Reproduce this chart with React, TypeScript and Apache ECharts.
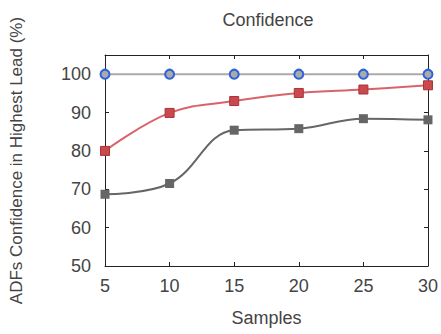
import React, { useEffect, useRef } from "react";
import * as echarts from "echarts";

const samples = [5, 10, 15, 20, 25, 30];
const blueSeries = [100, 100, 100, 100, 100, 100];
const redSeries = [80.0, 89.9, 93.0, 95.1, 96.0, 97.1];
const graySeries = [68.7, 71.5, 85.4, 85.8, 88.4, 88.1];
const yTicks = [50, 60, 70, 80, 90, 100];

const toPairs = (vals: number[]) => samples.map((s, i) => [s, vals[i]]);

export default function App() {
  const ref = useRef<HTMLDivElement>(null);
  useEffect(() => {
    document.body.style.margin = "0";
    const chart = echarts.init(ref.current!, undefined, { renderer: "svg" });
    const font = "Liberation Sans, Arial, sans-serif";
    const textColor = "#444";
    const axisLine = { show: true, lineStyle: { color: "#222", width: 1 } };
    const tick = { show: true, inside: true, length: 4, lineStyle: { color: "#222" } };
    chart.setOption({
      animation: false,
      backgroundColor: "#fff",
      title: {
        text: "Confidence",
        left: 263,
        top: 6,
        textAlign: "center",
        textStyle: { fontFamily: font, fontSize: 18, fontWeight: "normal", color: textColor },
      },
      grid: { left: 101, right: 10, top: 55, bottom: 68 },
      xAxis: [
        {
          type: "value",
          min: 5,
          max: 30,
          interval: 5,
          position: "bottom",
          axisLine,
          axisTick: tick,
          splitLine: { show: false },
          axisLabel: { fontFamily: font, fontSize: 18, color: textColor, margin: 11 },
          name: "Samples",
          nameLocation: "middle",
          nameGap: 43,
          nameTextStyle: { fontFamily: font, fontSize: 18, color: textColor },
        },
        {
          type: "value",
          min: 5,
          max: 30,
          interval: 5,
          position: "top",
          axisLine,
          axisTick: tick,
          splitLine: { show: false },
          axisLabel: { show: false },
        },
      ],
      yAxis: [
        {
          type: "value",
          min: 50,
          max: 105,
          interval: 10,
          position: "left",
          axisLine,
          axisTick: tick,
          splitLine: { show: false },
          axisLabel: {
            fontFamily: font,
            fontSize: 18,
            color: textColor,
            margin: 14,
            formatter: (v: number) => (yTicks.includes(v) ? String(v) : ""),
          },
          name: "ADFs Confidence in Highest Lead (%)",
          nameLocation: "middle",
          nameGap: 80,
          nameTextStyle: { fontFamily: font, fontSize: 17, color: textColor },
        },
        {
          type: "value",
          min: 50,
          max: 105,
          interval: 10,
          position: "right",
          axisLine,
          axisTick: tick,
          splitLine: { show: false },
          axisLabel: { show: false },
        },
      ],
      series: [
        {
          type: "line",
          data: toPairs(graySeries),
          smooth: 0.4,
          symbol: "rect",
          symbolSize: 9,
          lineStyle: { color: "#666", width: 2 },
          itemStyle: { color: "#666" },
          z: 2,
        },
        {
          type: "line",
          data: toPairs(redSeries),
          smooth: 0.4,
          symbol: "rect",
          symbolSize: 9,
          lineStyle: { color: "#d9636a", width: 2 },
          itemStyle: { color: "#c9494f", borderColor: "#a33", borderWidth: 1 },
          z: 3,
        },
        {
          type: "line",
          data: toPairs(blueSeries),
          symbol: "circle",
          symbolSize: 9,
          lineStyle: { color: "#aaa", width: 2 },
          itemStyle: { color: "#aaa", borderColor: "#2d62d8", borderWidth: 2 },
          z: 4,
        },
      ],
    });
    return () => chart.dispose();
  }, []);
  return <div ref={ref} style={{ width: 441, height: 334 }} />;
}
